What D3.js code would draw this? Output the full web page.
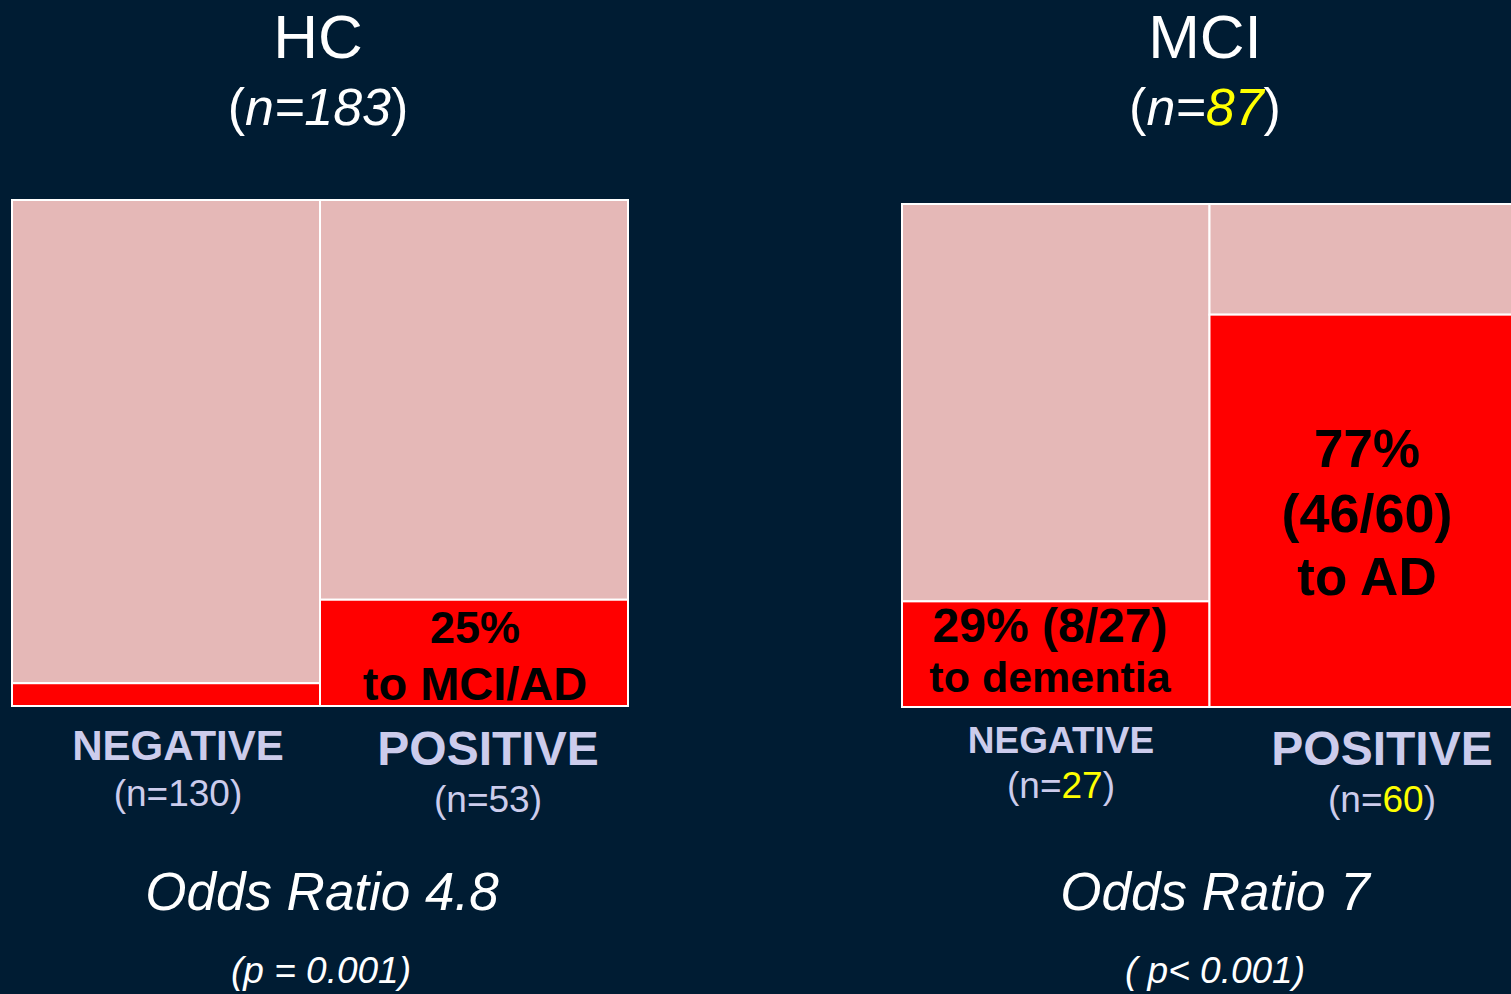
<!DOCTYPE html>
<html>
<head>
<meta charset="utf-8">
<script src="https://d3js.org/d3.v7.min.js"></script>
<style>
  body { margin: 0; background: #001c33; }
  text { font-family: Arial, "Liberation Sans", sans-serif; }
  .title { fill: #fff; text-anchor: middle; }
  .grp { fill: #ccccec; text-anchor: middle; font-weight: bold; }
  .cnt { fill: #ccccec; text-anchor: middle; }
  .inner { fill: #000; text-anchor: middle; font-weight: bold; }
  .odds { fill: #fff; text-anchor: middle; font-style: italic; }
  .yel { fill: #ffff00; }
</style>
</head>
<body>
<script>
// data
var panels = ["HC", "MCI"];
var totals = [183, 87];
var groups = ["NEGATIVE", "POSITIVE"];
var groupCounts = [[130, 53], [27, 60]];
var convertedFrac = [[0.045, 0.21], [0.21, 0.78]];
var oddsText = ["Odds Ratio 4.8", "Odds Ratio 7"];
var pText = ["(p = 0.001)", "( p< 0.001)"];
var innerLabels = [
  [[], ["25%", "to MCI/AD"]],
  [["29% (8/27)", "to dementia"], ["77%", "(46/60)", "to AD"]]
];

var width = 1511, height = 994;

var svg = d3.select("body").append("svg")
    .attr("width", width)
    .attr("height", height);

// layout of each panel
var layout = [
  {x0: 12, x1: 628, y0: 200, y1: 706, cx: 318},
  {x0: 902, x1: 1517, y0: 204, y1: 707, cx: 1205}
];
var grpSize = [[42, 48], [37, 48]];
var grpY = [[760, 765], [753, 765]];
var cntY = [[806, 812], [798, 812]];
var innerX = [[[], [475, 475]], [[1050, 1050], [1367, 1367, 1367]]];
var innerY = [[[], [643, 700]], [[642, 692], [467, 532, 595]]];
var innerSize = [[[], [45, 47]], [[48, 43], [53, 54, 53]]];

panels.forEach(function(p, pi) {
  var L = layout[pi];
  var g = svg.append("g");

  var x = d3.scaleBand().domain(groups).range([L.x0, L.x1]).padding(0);
  var y = d3.scaleLinear().domain([0, 1]).range([L.y1, L.y0]);

  // title
  g.append("text").attr("class", "title")
      .attr("x", L.cx).attr("y", 58)
      .style("font-size", "62px")
      .text(p);
  var nt = g.append("text").attr("class", "title")
      .attr("x", L.cx).attr("y", 125)
      .style("font-size", "52px");
  nt.append("tspan").text("(");
  nt.append("tspan").style("font-style", "italic").text("n=");
  nt.append("tspan").style("font-style", "italic")
      .attr("class", pi === 1 ? "yel" : null).text(totals[pi]);
  nt.append("tspan").text(")");

  groups.forEach(function(grp, gi) {
    var f = convertedFrac[pi][gi];
    var bx = x(grp), bw = x.bandwidth();
    // pink part (not converted)
    g.append("rect")
        .attr("x", bx).attr("y", y(1))
        .attr("width", bw).attr("height", y(f) - y(1))
        .attr("fill", "#e5b8b7")
        .attr("stroke", "#fff").attr("stroke-width", 2);
    // red part (converted)
    g.append("rect")
        .attr("x", bx).attr("y", y(f))
        .attr("width", bw).attr("height", y(0) - y(f))
        .attr("fill", "#ff0000")
        .attr("stroke", "#fff").attr("stroke-width", 2);

    innerLabels[pi][gi].forEach(function(t, ti) {
      g.append("text").attr("class", "inner")
          .attr("x", innerX[pi][gi][ti])
          .attr("y", innerY[pi][gi][ti])
          .style("font-size", innerSize[pi][gi][ti] + "px")
          .text(t);
    });

    var lx = pi === 0 ? (gi === 0 ? 178 : 488) : (gi === 0 ? 1061 : 1382);
    g.append("text").attr("class", "grp")
        .attr("x", lx).attr("y", grpY[pi][gi])
        .style("font-size", grpSize[pi][gi] + "px")
        .text(grp);
    var ct = g.append("text").attr("class", "cnt")
        .attr("x", lx).attr("y", cntY[pi][gi])
        .style("font-size", "37px");
    ct.append("tspan").text("(n=");
    ct.append("tspan").attr("class", pi === 1 ? "yel" : null)
        .text(groupCounts[pi][gi]);
    ct.append("tspan").text(")");
  });

  g.append("text").attr("class", "odds")
      .attr("x", pi === 0 ? 322 : 1215).attr("y", 910)
      .style("font-size", "53px")
      .text(oddsText[pi]);
  g.append("text").attr("class", "odds")
      .attr("x", pi === 0 ? 321 : 1215).attr("y", 983)
      .style("font-size", "37px")
      .text(pText[pi]);
});
</script>
</body>
</html>
